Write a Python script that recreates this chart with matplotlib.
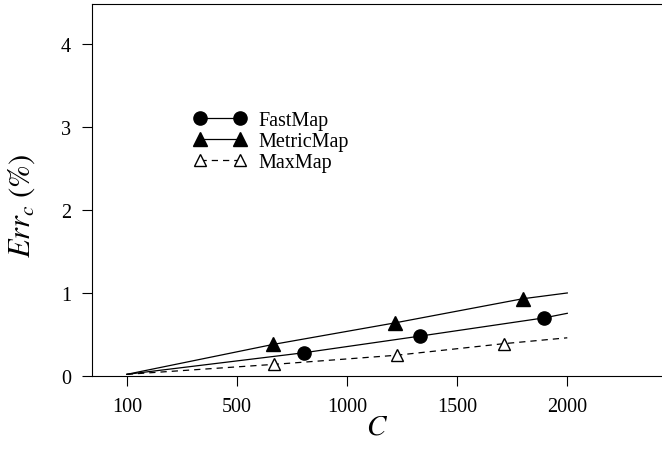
import matplotlib
matplotlib.use("Agg")
import matplotlib.pyplot as plt

plt.rcParams['font.family'] = ['Liberation Serif', 'DejaVu Serif']
plt.rcParams['mathtext.fontset'] = 'stix'

# x positions on the axis (first tick "100" sits at position 0)
tick_pos = [0, 500, 1000, 1500, 2000]
tick_labels = ['100', '500', '1000', '1500', '2000']

# series: line vertices, markers on the inner points
fast_x = [0, 804, 1330, 1895, 2000]
fast_y = [0.02, 0.28, 0.48, 0.70, 0.755]
metric_x = [0, 664, 1218, 1797, 2000]
metric_y = [0.02, 0.38, 0.64, 0.93, 1.0]
max_x = [0, 668, 1225, 1714, 2000]
max_y = [0.02, 0.14, 0.25, 0.39, 0.46]

fig = plt.figure(figsize=(6.62, 4.64), dpi=100)
ax = fig.add_axes([92 / 662, 1 - 377 / 464, 570 / 662, 372 / 464])

ax.plot(fast_x, fast_y, color='black', lw=0.9, marker='o', markersize=9.5,
        markevery=[1, 2, 3], label='FastMap')
ax.plot(metric_x, metric_y, color='black', lw=0.9, marker='^', markersize=9.5,
        markevery=[1, 2, 3], label='MetricMap')
ax.plot(max_x, max_y, color='black', lw=0.9, ls=(0, (5, 4)), marker='^', markersize=8.5,
        markerfacecolor='white', markevery=[1, 2, 3], label='MaxMap')

ax.set_xlim(-158, 2430)
ax.set_ylim(0, 4.48)
ax.set_xticks(tick_pos, tick_labels)
ax.set_yticks([0, 1, 2, 3, 4])
ax.spines['right'].set_visible(False)
ax.tick_params(direction='out', length=7, width=0.8, labelsize=14.5, pad=8)

ax.set_xlabel('$C$', fontsize=21, labelpad=-2)
ax.set_ylabel(r'$Err_c\ (\%)$', fontsize=22)
ax.yaxis.set_label_coords(-0.097, 0.46)

leg = ax.legend(loc='upper left', bbox_to_anchor=(0.165, 0.735), frameon=False,
                numpoints=2, handlelength=2.6, handletextpad=0.6, labelspacing=0.1,
                borderaxespad=0, fontsize=14.5)

fig.savefig('out.png', dpi=100)
